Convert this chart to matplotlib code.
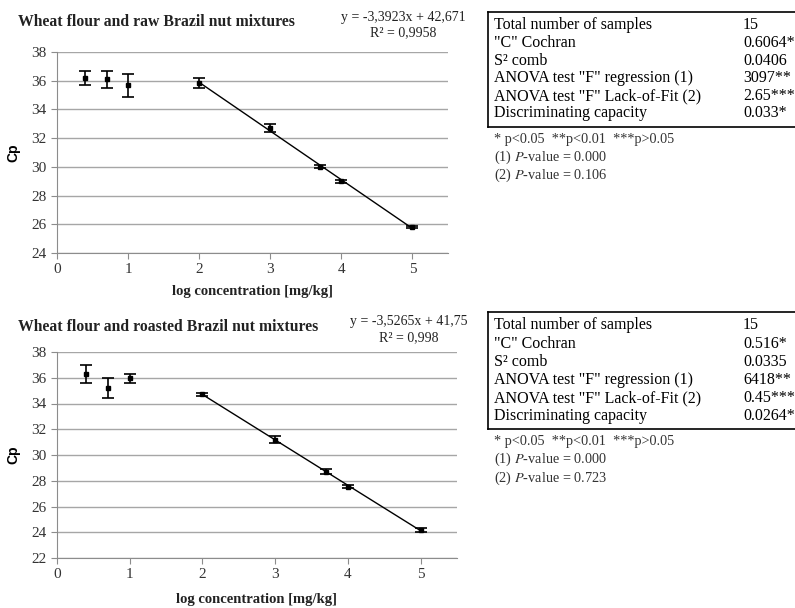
import matplotlib.pyplot as plt
import numpy as np

# data
conc = [0.4, 0.7, 1, 2, 3, 3.7, 4, 5]

raw_cp = [36.2, 36.1, 35.7, 35.85, 32.7, 30.0, 29.0, 25.8]
raw_err = [0.5, 0.6, 0.8, 0.35, 0.3, 0.1, 0.1, 0.05]
raw_fit = (-3.3923, 42.671)

roast_cp = [36.3, 35.2, 35.95, 34.7, 31.2, 28.7, 27.55, 24.15]
roast_err = [0.7, 0.75, 0.35, 0.15, 0.25, 0.2, 0.1, 0.15]
roast_fit = (-3.5265, 41.75)

table_labels = ["Total number of samples", '"C" Cochran', "S\u00b2 comb",
                'ANOVA test "F" regression (1)', 'ANOVA test "F" Lack-of-Fit (2)',
                "Discriminating capacity"]
raw_values = ["15", "0.6064*", "0.0406", "3097**", "2.65***", "0.033*"]
roast_values = ["15", "0.516*", "0.0335", "6418**", "0.45***", "0.0264*"]
raw_pvals = ["0.000", "0.106"]
roast_pvals = ["0.000", "0.723"]

W, H = 795, 608
serif = "Liberation Serif"
sans = "Liberation Sans"
plt.rcParams["mathtext.fontset"] = "stix"

fig = plt.figure(figsize=(W / 100, H / 100), dpi=100)


def px_axes(left, top, right, bottom):
    return fig.add_axes([left / W, 1 - bottom / H, (right - left) / W, (bottom - top) / H])


def draw_panel(ax, cp, err, fit, ylo, title, eq, r2, title_y, eq_y, eq_x):
    ax.errorbar(conc, cp, yerr=err, fmt="s", ms=3.5, color="black",
                ecolor="black", elinewidth=1.2, capsize=4, capthick=1.2, zorder=3)
    xs = np.array([conc[3], conc[-1]])
    ax.plot(xs, fit[0] * xs + fit[1], color="black", lw=1, zorder=2)
    ax.set_xlim(0, 5.5)
    ax.set_ylim(ylo, 38)
    ax.set_yticks(np.arange(ylo, 39, 2))
    ax.set_xticks(range(6))
    ax.grid(axis="y", color="#a6a6a6", lw=1)
    ax.set_axisbelow(True)
    for s in ["top", "right"]:
        ax.spines[s].set_visible(False)
    for s in ["left", "bottom"]:
        ax.spines[s].set_color("#8c8c8c")
    ax.tick_params(colors="#8c8c8c", labelcolor="#333333", length=4)
    for lab in ax.get_xticklabels() + ax.get_yticklabels():
        lab.set_fontfamily(serif)
        lab.set_fontsize(11)
    ax.set_ylabel("Cp", fontfamily=sans, fontweight="bold", fontsize=10, labelpad=8)
    ax.set_xlabel("log concentration [mg/kg]", fontfamily=serif, fontweight="bold",
                  fontsize=10.5, color="#222222")
    fig.text(18 / W, 1 - title_y / H, title, fontfamily=serif, fontweight="bold",
             fontsize=11.3, va="center", color="#222222")
    fig.text(eq_x / W, 1 - eq_y / H, eq, fontfamily=serif, fontsize=10,
             va="center", ha="center", color="#222222")
    fig.text(eq_x / W, 1 - (eq_y + 16) / H, r2, fontfamily=serif, fontsize=10,
             va="center", ha="center", color="#222222")


ax1 = px_axes(57, 52, 448, 253)
draw_panel(ax1, raw_cp, raw_err, raw_fit, 24, "Wheat flour and raw Brazil nut mixtures",
           "y = -3,3923x + 42,671", "R\u00b2 = 0,9958", 22, 17, 403)
ax1.xaxis.labelpad = 6

ax2 = px_axes(57, 352, 457, 558)
draw_panel(ax2, roast_cp, roast_err, roast_fit, 22, "Wheat flour and roasted Brazil nut mixtures",
           "y = -3,5265x + 41,75", "R\u00b2 = 0,998", 327, 322, 409)
ax2.xaxis.labelpad = 8


def draw_table(top, bottom, rows_y, foot_y, values, pvals):
    # box with the right side cut off by the page edge
    fig.add_artist(plt.Line2D([488 / W, 1], [1 - top / H] * 2, color="black", lw=1.2))
    fig.add_artist(plt.Line2D([488 / W, 1], [1 - bottom / H] * 2, color="black", lw=1.2))
    fig.add_artist(plt.Line2D([488 / W] * 2, [1 - top / H, 1 - bottom / H], color="black", lw=1.2))
    for y, lab, val in zip(rows_y, table_labels, values):
        fig.text(494 / W, 1 - y / H, lab, fontfamily=serif, fontsize=11.5, va="center_baseline")
        fig.text(743 / W, 1 - y / H, val, fontfamily=serif, fontsize=11.5, va="center_baseline")
    fig.text(494 / W, 1 - foot_y[0] / H, "* p<0.05  **p<0.01  ***p>0.05",
             fontfamily=serif, fontsize=10.3, va="center", color="#333333")
    for i, pv in enumerate(pvals):
        fig.text(494 / W, 1 - foot_y[i + 1] / H, "(%d) $\\it{P}$-value = %s" % (i + 1, pv),
                 fontfamily=serif, fontsize=10.3, va="center", color="#333333")


draw_table(12, 127, [23, 41, 59, 76, 94, 111], [139, 157, 175], raw_values, raw_pvals)
draw_table(312, 429, [323, 342, 360, 378, 396, 414], [441, 459, 478], roast_values, roast_pvals)

plt.savefig("out.png", dpi=100)
